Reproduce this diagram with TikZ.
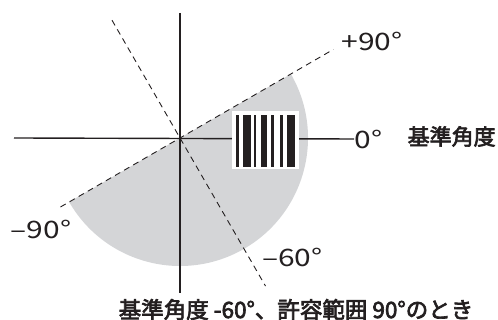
\documentclass[tikz,border=0pt]{standalone}
\usepackage{fontspec}
\setmainfont{Noto Sans CJK JP}
\newfontfamily\numfont[FakeStretch=1.25]{Noto Sans CJK JP}
\newfontfamily\jpfont[FakeBold=3]{Noto Sans CJK JP}
\definecolor{sector}{HTML}{D4D5D7}
\definecolor{ink}{HTML}{231F20}
\tikzset{
  px/.style={x=1pt,y=1pt,line width=1.3pt},
  axis/.style={ink,line width=1.4pt},
  guide/.style={ink,line width=.9pt,dash pattern=on 6pt off 4.5pt},
  deg/.style={ink,inner sep=0pt,font=\numfont\fontsize{24}{24}\selectfont},
  jplabel/.style={ink,inner sep=0pt,font=\jpfont\fontsize{22.5}{22.5}\selectfont}
}
\begin{document}
\begin{tikzpicture}[px]
  \useasboundingbox (0,0) rectangle (498,320);
  \coordinate (o) at (180,182);
  % allowed range, -60 +- 90
  \fill[sector] (o) -- ([shift={(30:128)}]o) arc[start angle=30,end angle=-150,radius=128] -- cycle;
  % labels
  \node[deg,anchor=west] (zero) at (354,181) {0°};
  \node[jplabel,anchor=west,font=\jpfont\fontsize{22}{22}\selectfont] (ref) at (407,183.5) {基準角度};
  \node[deg] (plus) at (372,278.5) {+90°};
  \node[deg] (minus) at (41,91) {–90°};
  \node[deg] (sixty) at (292.5,63) {–60°};
  \node[jplabel] (note) at (296,10.5) {基準角度 -60°、許容範囲 90°のとき};
  % axes
  \coordinate (left) at (14,182);
  \coordinate (top) at (180,307);
  \coordinate (bottom) at (180,27);
  \draw[axis] (left) -- (zero.west);
  \draw[axis] (top) -- (bottom);
  % limits and reference direction
  \coordinate (hiA) at ([shift={(30:177)}]o);
  \coordinate (hiB) at ([shift={(210:138)}]o);
  \coordinate (refA) at ([shift={(120:136)}]o);
  \coordinate (refB) at ([shift={(-60:171)}]o);
  \draw[guide] (hiB) -- (hiA);
  \draw[guide] (refA) -- (refB);
  \fill[ink] (o) circle(1.2);
  % barcode
  \fill[white] (232,150.5) rectangle (299,209.3);
  \foreach \a/\b in {236/239,242.7/250.7,254/256.3,260.7/267.3,270.7/274,280.3/282.7,286.7/294.7}{\fill[ink] (\a,153.3) rectangle (\b,204.7);}
\end{tikzpicture}
\end{document}
